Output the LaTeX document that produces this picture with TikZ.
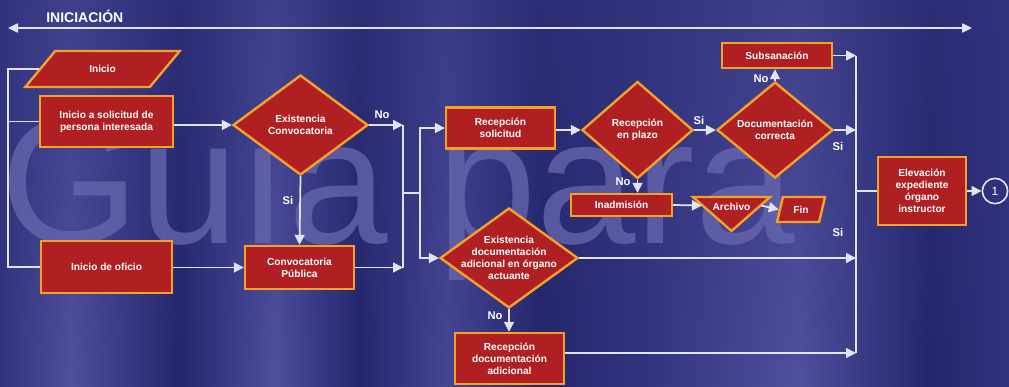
\documentclass[tikz,border=0pt]{standalone}
\usepackage{fontspec}
\setmainfont{Liberation Sans}
\usetikzlibrary{arrows.meta,shapes.geometric,fadings}

\definecolor{bgdark}{RGB}{36,38,108}
\definecolor{bgmid}{RGB}{50,51,126}
\definecolor{bglight}{RGB}{80,80,158}
\definecolor{bglight2}{RGB}{70,70,148}
\definecolor{wmcol}{RGB}{104,104,176}
\definecolor{boxred}{RGB}{176,32,34}
\definecolor{boxorange}{RGB}{242,162,40}
\definecolor{linecol}{RGB}{226,226,240}

% soft vertical bands of the backdrop
\pgfdeclarehorizontalshading{bgbands}{100bp}{
  color(0bp)=(bgmid); color(25bp)=(bgmid);
  color(28.5bp)=(bglight); color(33.9bp)=(bgdark); color(38.6bp)=(bglight);
  color(42.8bp)=(bgdark); color(47.1bp)=(bglight2); color(51.8bp)=(bgdark);
  color(56.7bp)=(bgmid); color(64.6bp)=(bglight); color(71.1bp)=(bgdark);
  color(75bp)=(bgmid); color(100bp)=(bgmid)}

\newcommand{\boxfont}{\fontsize{7.6}{9}\selectfont\bfseries}
\newcommand{\lblfont}{\fontsize{8.4}{10}\selectfont\bfseries}

\tikzset{
  flow/.style={draw=linecol, line width=1.3pt},
  arr/.style={flow, -{Triangle[length=7.5pt,width=7.5pt]}},
  topline/.style={draw=linecol, line width=1pt,
    {Triangle[length=7.5pt,width=7pt]}-{Triangle[length=7.5pt,width=7pt]}},
  shapebase/.style={draw=boxorange, line width=1.8pt, fill=boxred},
  box/.style={rectangle, shapebase, text=white, font=\boxfont, align=center, inner sep=1pt},
  pbox/.style={trapezium, trapezium stretches=true, shapebase, text=white,
    font=\boxfont, inner sep=1pt},
  dia/.style={diamond, shapebase, inner sep=0pt},
  dtxt/.style={text=white, font=\boxfont, align=center, inner sep=0pt},
  lbl/.style={text=white, font=\lblfont, inner sep=0pt},
}

\begin{document}
\begin{tikzpicture}[x=0.75pt, y=-0.75pt]
% backdrop
\useasboundingbox (0,0) rectangle (1009,386);
\fill[shading=bgbands] (0,0) rectangle (1009,386);
\fill[bgmid, path fading=south, fill opacity=0.55] (0,0) rectangle (1009,386);
\node[anchor=base west, inner sep=0pt, font=\fontsize{134}{134}\selectfont,
  text=wmcol, text opacity=0.75] (wm) at (0,243) {Guía para};

% phase heading
\node[anchor=west, inner sep=0pt, text=white,
  font=\fontsize{10.5}{12}\selectfont\bfseries] (fase) at (46,16) {INICIACIÓN};
\coordinate (tl) at (8,28);
\coordinate (tr) at (972,28);
\draw[topline] (tl) -- (tr);

% nodes
\node[pbox, trapezium left angle=47.5, trapezium right angle=132.5,
  minimum width=116.25pt, minimum height=27pt] (inicio) at (102.5,69) {Inicio};
\node[box, minimum width=99.75pt, minimum height=38.25pt] (solicitud) at (106.5,121.5)
  {Inicio a solicitud de\\persona interesada};
\node[box, minimum width=98.25pt, minimum height=39pt] (oficio) at (106.5,267)
  {Inicio de oficio};
\node[dia, minimum width=101.25pt, minimum height=75pt,
  label={[dtxt]center:Existencia\\Convocatoria}] (existconv) at (300.5,125) {};
\node[box, minimum width=81.75pt, minimum height=32.25pt] (convpub) at (299.5,267.5)
  {Convocatoria\\Pública};
\node[box, minimum width=81.75pt, minimum height=30.75pt] (recsol) at (500.5,128)
  {Recepción\\solicitud};
\node[dia, minimum width=83.25pt, minimum height=72.75pt,
  label={[dtxt]center:Recepción\\en plazo}] (plazo) at (637.5,130) {};
\node[dia, minimum width=87pt, minimum height=72pt,
  label={[dtxt]center:Documentación\\correcta}] (doccor) at (775,130) {};
\node[box, minimum width=82.5pt, minimum height=18.75pt] (subsan) at (777,55.5)
  {Subsanación};
\node[box, minimum width=75.75pt, minimum height=16.5pt] (inadm) at (621.5,205)
  {Inadmisión};
% archive: downward triangle
\coordinate (archTL) at (693,197);
\coordinate (archTR) at (770,197);
\coordinate (archB) at (731.5,231);
\path[shapebase, line join=miter] (archTL) -- (archTR) -- (archB) -- cycle;
\node[dtxt] (archivo) at (731.5,206.5) {Archivo};
\coordinate (archin) at (702,205.5);
\coordinate (archout) at (761,205.5);
\node[pbox, trapezium left angle=74, trapezium right angle=106,
  minimum width=36pt, minimum height=18.75pt] (fin) at (801,209.5) {Fin};
\node[dia, minimum width=103.5pt, minimum height=75pt,
  label={[dtxt]center:Existencia\\documentación\\adicional en órgano\\actuante}]
  (existdoc) at (509,258) {};
\node[box, minimum width=81.75pt, minimum height=38.25pt] (recdoc) at (509.5,358.5)
  {Recepción\\documentación\\adicional};
\node[box, minimum width=66pt, minimum height=51pt] (elev) at (922,191)
  {Elevación\\expediente\\órgano\\instructor};
\node[circle, draw=linecol, line width=1.2pt, minimum size=19pt, inner sep=0pt,
  text=white, font=\fontsize{9}{10}\selectfont] (one) at (995,191) {1};

% branch labels
\node[lbl] (noA) at (382,115) {No};
\node[lbl] (siA) at (288,200) {Si};
\node[lbl] (siB) at (699,120) {Si};
\node[lbl] (noB) at (623,182) {No};
\node[lbl] (noC) at (761,79) {No};
\node[lbl] (siC) at (838,146) {Si};
\node[lbl] (siD) at (838,232) {Si};
\node[lbl] (noD) at (495,316) {No};

% left bracket joining the three starts
\coordinate (lb) at (8,267);
\draw[flow] (inicio.west) -| (lb) -- (oficio.west);
\draw[flow] (solicitud.west) -- (solicitud.west -| lb);

% first column
\draw[arr] (solicitud.east |- existconv.west) -- (existconv.west);
\draw[arr] (existconv.south) -- (convpub.north);
\draw[arr] (oficio.east |- convpub.west) -- (convpub.west);

% merge into the reception branch
\coordinate (j1t) at (403,125);
\coordinate (j1b) at (403,267.5);
\coordinate (j1m) at (403,193);
\coordinate (j2m) at (420,193);
\draw[arr] (existconv.east) -- (j1t);
\draw[arr] (convpub.east) -- (j1b);
\draw[flow] (j1t) -- (j1b);
\draw[flow] (j1m) -- (j2m);
\draw[arr] (j2m) |- (recsol.west);
\draw[arr] (j2m) |- (existdoc.west);

% reception of the request
\draw[arr] (recsol.east |- plazo.west) -- (plazo.west);
\draw[arr] (plazo.east) -- (doccor.west);
\draw[arr] (plazo.south) -- (plazo.south |- inadm.north);
\draw[arr] (doccor.north) -- (doccor.north |- subsan.south);
\draw[arr] (inadm.east) -- (archin);
\draw[arr] (archout) -- (fin.west);
\draw[arr] (existdoc.south) -- (existdoc.south |- recdoc.north);

% right collector
\coordinate (rj) at (856,191);
\coordinate (rbot) at (856,353);
\draw[flow] (subsan.east -| rj) -- (rbot);
\draw[arr] (subsan.east) -- (subsan.east -| rj);
\draw[arr] (doccor.east) -- (doccor.east -| rj);
\draw[arr] (existdoc.east) -- (existdoc.east -| rj);
\draw[arr] (recdoc.east |- rbot) -- (rbot);
\draw[flow] (rj) -- (elev.west);
\draw[arr] (elev.east) -- (one.west);
\end{tikzpicture}
\end{document}
